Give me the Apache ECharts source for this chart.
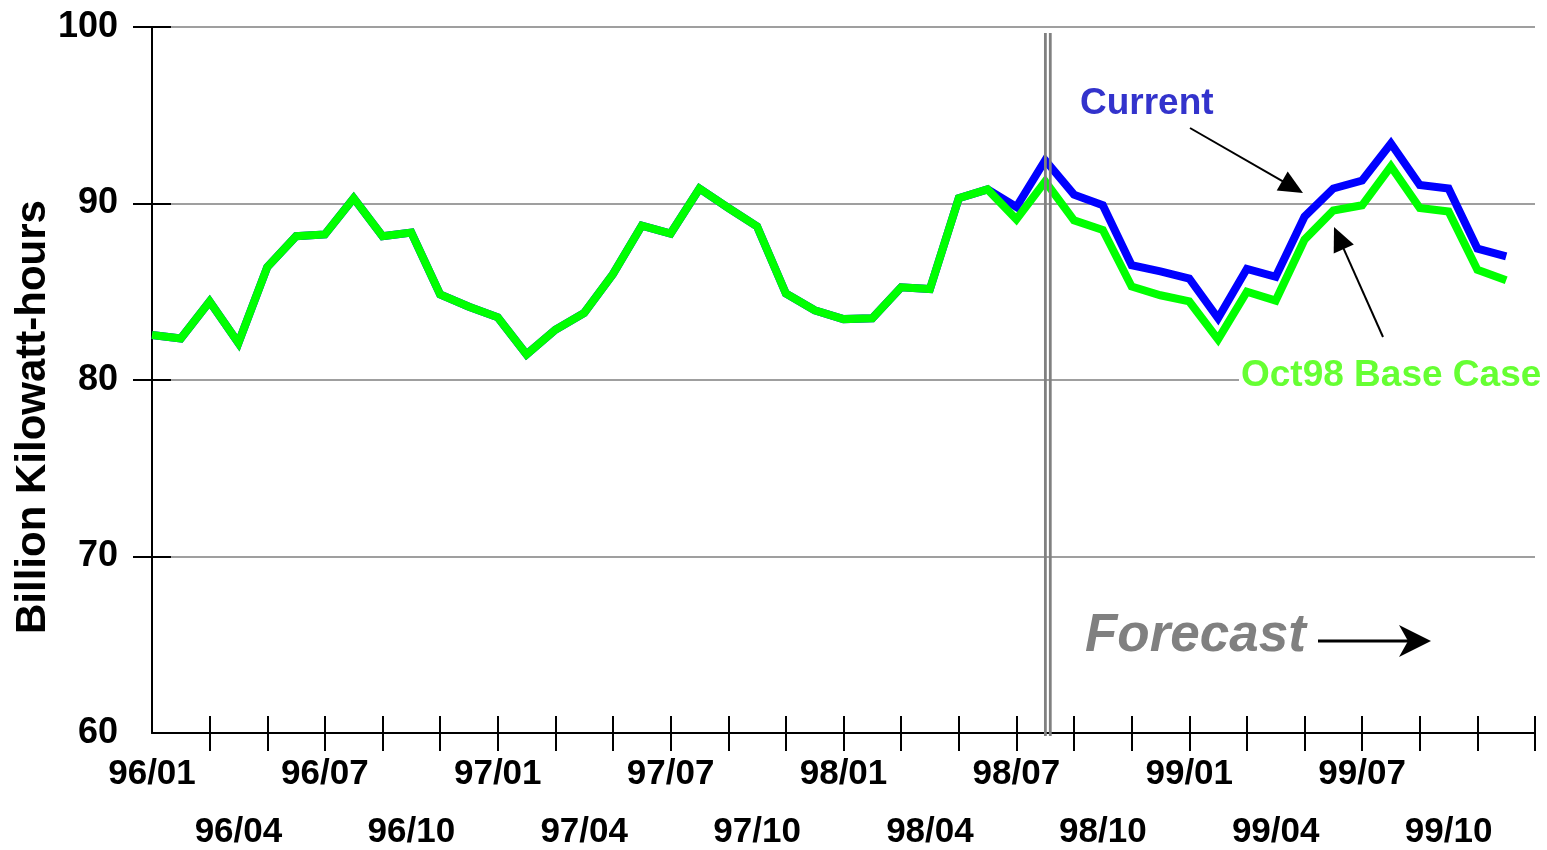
<!DOCTYPE html>
<html>
<head>
<meta charset="utf-8">
<title>Billion Kilowatt-hours</title>
<script src="https://cdn.jsdelivr.net/npm/echarts@6/dist/echarts.min.js"></script>
<style>
  html, body { margin: 0; padding: 0; background: #ffffff; }
  #chart { width: 1547px; height: 850px; }
</style>
</head>
<body>
<div id="chart"></div>
<script>
// Month categories (axis runs to the start of 2000)
const months = [
  '96/01','96/02','96/03','96/04','96/05','96/06','96/07','96/08','96/09','96/10','96/11','96/12',
  '97/01','97/02','97/03','97/04','97/05','97/06','97/07','97/08','97/09','97/10','97/11','97/12',
  '98/01','98/02','98/03','98/04','98/05','98/06','98/07','98/08','98/09','98/10','98/11','98/12',
  '99/01','99/02','99/03','99/04','99/05','99/06','99/07','99/08','99/09','99/10','99/11','99/12',
  '00/01'
];

// History shared by both runs, 96/01 .. 98/06
const history = [
  82.55, 82.35, 84.45, 82.1, 86.4, 88.15, 88.25, 90.3, 88.15, 88.35, 84.85, 84.15,
  83.55, 81.45, 82.85, 83.8, 86.0, 88.75, 88.3, 90.85, 89.75, 88.7, 84.9, 83.95,
  83.45, 83.5, 85.25, 85.15, 90.3, 90.8
];

// 98/07 .. 99/12
const currentRun = [
  89.8, 92.45, 90.5, 89.9, 86.5, 86.15, 85.75, 83.5, 86.3, 85.85, 89.25, 90.85,
  91.3, 93.4, 91.05, 90.85, 87.45, 87.0
];
const baseCaseRun = [
  89.1, 91.25, 89.05, 88.5, 85.3, 84.8, 84.45, 82.3, 85.0, 84.5, 87.95, 89.6,
  89.9, 92.1, 89.75, 89.55, 86.25, 85.65
];

const yTicks = [60, 70, 80, 90, 100];

const FONT = "'Liberation Sans', Arial, sans-serif";

const chart = echarts.init(document.getElementById('chart'), null, { renderer: 'canvas' });

const tickEvery2 = (i) => i > 0 && i % 2 === 0;
const catAxisBase = {
  type: 'category',
  data: months,
  boundaryGap: false,
  position: 'bottom',
  offset: 0,
  splitLine: { show: false }
};

const yBase = {
  type: 'value',
  min: yTicks[0],
  max: yTicks[yTicks.length - 1],
  interval: 10,
  position: 'left',
  offset: 0
};

chart.setOption({
  animation: false,
  backgroundColor: '#ffffff',
  grid: { left: 152, right: 12, top: 27, bottom: 117, containLabel: false },
  xAxis: [
    Object.assign({}, catAxisBase, {
      axisLine: { show: true, lineStyle: { color: '#000', width: 2 } },
      axisTick: { show: true, inside: true, length: 17, interval: tickEvery2, lineStyle: { color: '#000', width: 2 } },
      axisLabel: {
        show: true,
        interval: (i) => i % 6 === 0 && i < 48,
        margin: 24,
        color: '#000',
        fontFamily: FONT,
        fontWeight: 'bold',
        fontSize: 35
      }
    }),
    Object.assign({}, catAxisBase, {
      axisLine: { show: false },
      axisTick: { show: true, inside: false, length: 18, interval: tickEvery2, lineStyle: { color: '#000', width: 2 } },
      axisLabel: {
        show: true,
        interval: (i) => i % 6 === 3,
        margin: 82,
        color: '#000',
        fontFamily: FONT,
        fontWeight: 'bold',
        fontSize: 35
      }
    })
  ],
  yAxis: [
    Object.assign({}, yBase, {
      axisLine: { show: true, lineStyle: { color: '#000', width: 2 } },
      axisTick: { show: true, inside: true, length: 19, customValues: [70, 80, 90, 100], lineStyle: { color: '#000', width: 2 } },
      splitLine: { show: true, lineStyle: { color: '#7f7f7f', width: 1.5 } },
      axisLabel: {
        show: true,
        margin: 34,
        color: '#000',
        fontFamily: FONT,
        fontWeight: 'bold',
        fontSize: 36,
        padding: [0, 0, 6, 0]
      }
    }),
    Object.assign({}, yBase, {
      axisLine: { show: false },
      axisTick: { show: true, inside: false, length: 19, customValues: [70, 80, 90, 100], lineStyle: { color: '#000', width: 2 } },
      splitLine: { show: false },
      axisLabel: { show: false }
    })
  ],
  series: [
    {
      name: 'Current',
      type: 'line',
      xAxisIndex: 0,
      yAxisIndex: 0,
      data: history.concat(currentRun),
      showSymbol: false,
      symbol: 'none',
      lineStyle: { color: '#0000ff', width: 8, cap: 'butt', join: 'miter' },
      z: 3
    },
    {
      name: 'Oct98 Base Case',
      type: 'line',
      xAxisIndex: 0,
      yAxisIndex: 0,
      data: history.concat(baseCaseRun),
      showSymbol: false,
      symbol: 'none',
      lineStyle: { color: '#00ff00', width: 8, cap: 'butt', join: 'miter' },
      z: 4
    }
  ]
});

// Arrow helpers for the callouts
function headPoints(x1, y1, x2, y2, len, halfW) {
  const a = Math.atan2(y2 - y1, x2 - x1);
  const bx = x2 - len * Math.cos(a), by = y2 - len * Math.sin(a);
  const nx = -Math.sin(a) * halfW, ny = Math.cos(a) * halfW;
  return [[x2, y2], [bx + nx, by + ny], [bx - nx, by - ny]];
}
function arrow(x1, y1, x2, y2, len, halfW) {
  const a = Math.atan2(y2 - y1, x2 - x1);
  return [
    { type: 'line', z: 20, shape: { x1: x1, y1: y1, x2: x2 - len * 0.8 * Math.cos(a), y2: y2 - len * 0.8 * Math.sin(a) },
      style: { stroke: '#000', lineWidth: 2 } },
    { type: 'polygon', z: 20, shape: { points: headPoints(x1, y1, x2, y2, len, halfW) },
      style: { fill: '#000' } }
  ];
}

// Forecast divider: a double grey rule just after 98/07
const divX = chart.convertToPixel({ xAxisIndex: 0 }, '98/08');
const yTop = chart.convertToPixel({ yAxisIndex: 0 }, 100);
const yBot = chart.convertToPixel({ yAxisIndex: 0 }, 60);

const graphics = [
  { type: 'rect', z: 15, shape: { x: divX - 1.2, y: yTop + 6, width: 2.8, height: yBot - yTop - 3 }, style: { fill: '#808080' } },
  { type: 'rect', z: 15, shape: { x: divX + 3.7, y: yTop + 6, width: 2.8, height: yBot - yTop - 3 }, style: { fill: '#808080' } },

  // axis title
  { type: 'text', z: 20, x: 33, y: 417, rotation: Math.PI / 2,
    style: { text: 'Billion Kilowatt-hours', fill: '#000', font: 'bold 42px ' + FONT, textAlign: 'center', textVerticalAlign: 'middle' } },

  // series callouts
  { type: 'text', z: 20, x: 1080, y: 104,
    style: { text: 'Current', fill: '#3333cc', font: 'bold 37px ' + FONT, textAlign: 'left', textVerticalAlign: 'middle' } },
  { type: 'text', z: 20, x: 1239, y: 376,
    style: { text: 'Oct98 Base Case', fill: '#66ff33', font: 'bold 37px ' + FONT, textAlign: 'left', textVerticalAlign: 'middle',
      backgroundColor: '#ffffff', padding: [2, 2, 2, 2] } },

  // forecast marker
  { type: 'text', z: 20, x: 1085, y: 636,
    style: { text: 'Forecast', fill: '#808080', font: 'italic bold 53px ' + FONT, textAlign: 'left', textVerticalAlign: 'middle' } },
  { type: 'line', z: 20, shape: { x1: 1318, y1: 641, x2: 1420, y2: 641 }, style: { stroke: '#000', lineWidth: 3 } },
  { type: 'polygon', z: 20, shape: { points: [[1431, 641], [1399, 625], [1408, 641], [1399, 657]] }, style: { fill: '#000' } }
]
  .concat(arrow(1190, 128, 1303, 193, 24, 11))
  .concat(arrow(1383, 337, 1334, 227, 24, 11));

chart.setOption({ graphic: graphics });
</script>
</body>
</html>
